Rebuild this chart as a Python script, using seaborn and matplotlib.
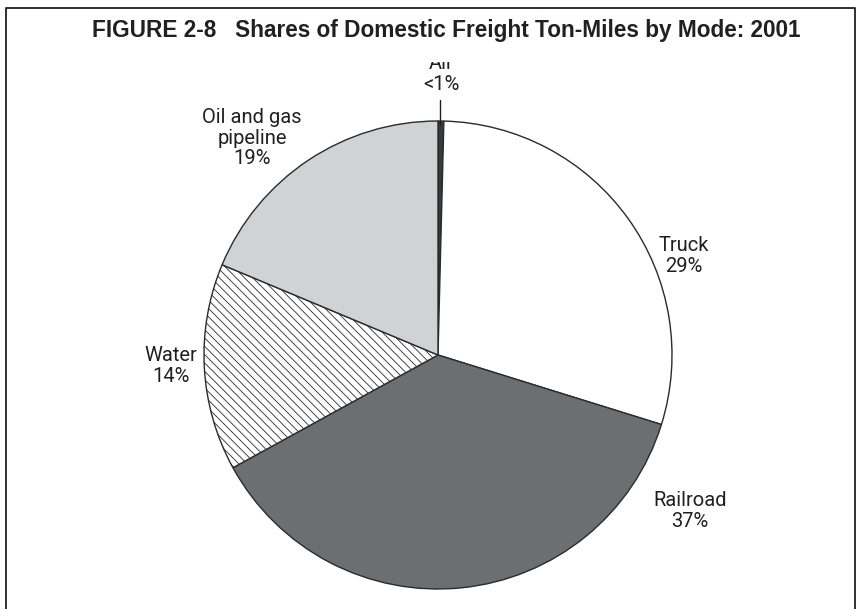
import matplotlib
matplotlib.use("Agg")
import matplotlib.pyplot as plt
import seaborn as sns
from matplotlib.lines import Line2D
from matplotlib.patches import Rectangle

modes = ["Air", "Truck", "Railroad", "Water", "Oil and gas\npipeline"]
shares = [0.4, 29.4, 37.2, 14.3, 18.7]
share_labels = ["<1%", "29%", "37%", "14%", "19%"]
fills = ["#3a3a3c", "#ffffff", "#6d6e70", "#ffffff", "#d1d2d4"]
hatches = [None, None, None, "\\\\\\\\", None]

# label centres in pie-radius units
label_pos = [(0.013, 1.20), (1.051, 0.423), (1.077, -0.667), (-1.14, -0.047), (-0.795, 0.927)]

sns.set_theme(style="white")
plt.rcParams["font.family"] = ["Roboto", "DejaVu Sans"]
plt.rcParams["hatch.linewidth"] = 0.6
plt.rcParams["hatch.color"] = "#9a9a9a"

fig = plt.figure(figsize=(8.6, 6.09), dpi=100)
ax = fig.add_axes([0, 0, 1, 1])

wedges, _ = ax.pie(shares, colors=fills, startangle=90, counterclock=False,
                   radius=1.0, wedgeprops=dict(edgecolor="#2b2b2b", linewidth=1.0))
for w, h in zip(wedges, hatches):
    if h:
        w.set_hatch(h)

for name, pct, (x, y) in zip(modes, share_labels, label_pos):
    ax.text(x, y, name + "\n" + pct, ha="center", va="center", fontsize=14.5,
            color="#231f20", linespacing=1.1)

# leader line for the tiny Air slice
ax.plot([0.009, 0.009], [1.09, 0.985], color="#231f20", lw=1)

ax.set_xlim(-438 / 234, 422 / 234)
ax.set_ylim(-254 / 234, 355 / 234)
ax.set_aspect("equal")
ax.axis("off")

# title band hides the top of the Air label like in the source
fig.patches.append(Rectangle((0.01, 0.898), 0.98, 0.085, transform=fig.transFigure,
                             facecolor="white", edgecolor="none", zorder=2))
fig.text(0.519, 0.950, "FIGURE 2-8   Shares of Domestic Freight Ton-Miles by Mode: 2001",
         ha="center", va="center", fontsize=16.3, fontweight="bold",
         family=["Liberation Sans", "DejaVu Sans"], color="#231f20", zorder=3)

# open frame (left, top, right)
fx0, fx1, fy = 5.5 / 860, 854.5 / 860, 1 - 7.5 / 609
fig.lines.append(Line2D([fx0, fx0, fx1, fx1], [0, fy, fy, 0], transform=fig.transFigure,
                        color="#231f20", lw=1.3, zorder=4))

fig.savefig("out.png", dpi=100)
